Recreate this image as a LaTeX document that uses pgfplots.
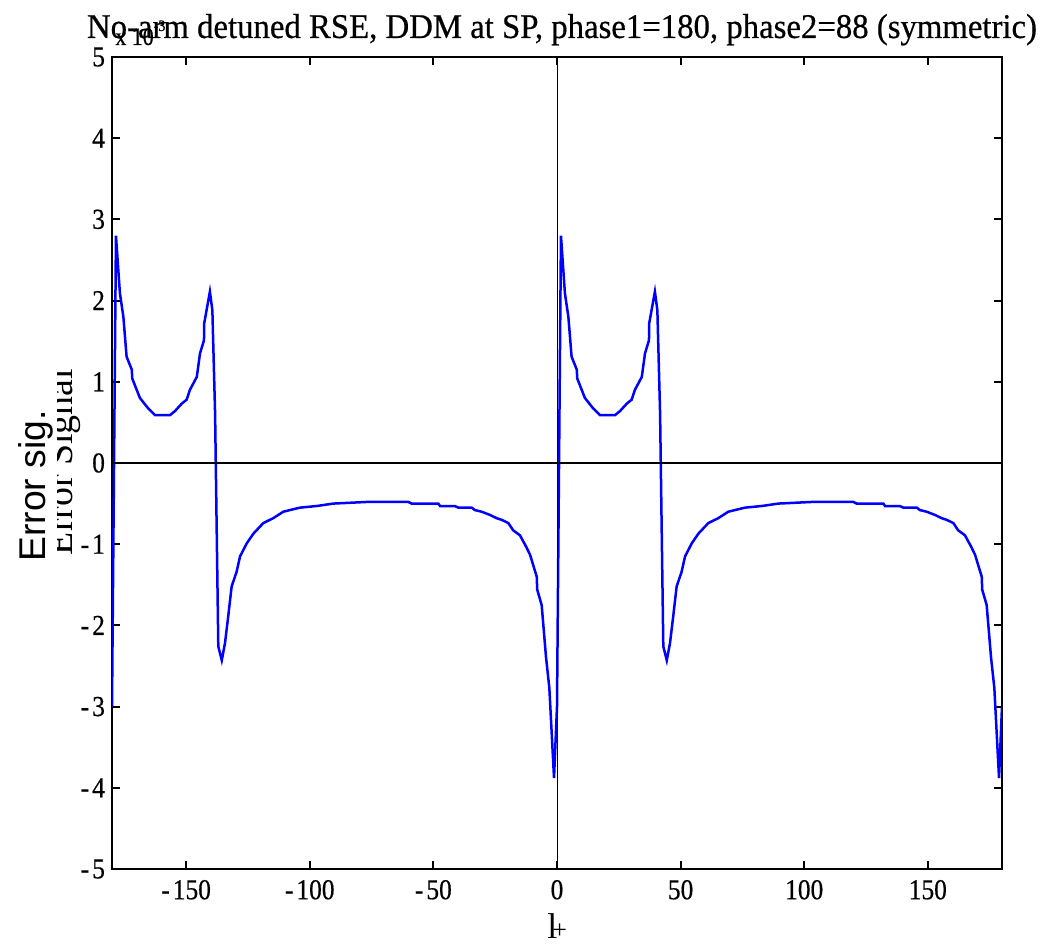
\documentclass[border=0pt]{standalone}
\usepackage{pgfplots}
\pgfplotsset{compat=1.18}
\usepackage{fontspec}
\setmainfont{Liberation Serif}
\setsansfont{Liberation Sans}
\newfontfamily\condserif{Liberation Serif}[FakeStretch=0.88, FakeBold=0.5]

\begin{document}
\begin{tikzpicture}
\begin{axis}[
    name=ax,
    scale only axis,
    width=445bp, height=406bp,
    xmin=-180, xmax=180, ymin=-5, ymax=5,
    xtick={-150,-100,-50,0,50,100,150},
    xticklabels={{-\kern1.5bp150},{-\kern1.5bp100},{-\kern1.5bp50},0,50,100,150},
    ytick={-5,-4,-3,-2,-1,0,1,2,3,4,5},
    yticklabels={{-\kern1.5bp5},{-\kern1.5bp4},{-\kern1.5bp3},{-\kern1.5bp2},{-\kern1.5bp1},0,1,2,3,4,5},
    tick label style={font=\condserif\fontsize{14.5}{14.5}\selectfont},
    xticklabel style={yshift=-2bp},
    tick align=inside,
    major tick length=4bp,
    axis line style={line width=1.2bp},
    every tick/.style={black, line width=1bp},
]
\addplot[color=blue, line width=1.25bp] coordinates {
    (-180,-3.0) (-178.4,2.80) (-176.8,2.09) (-175.4,1.80) (-174.1,1.31)
    (-172.0,1.15) (-171.8,1.04) (-170.0,0.90) (-168.7,0.80) (-165.3,0.67)
    (-162.6,0.59) (-156.5,0.59) (-154.5,0.64) (-151.8,0.73) (-149.8,0.78)
    (-148.5,0.90) (-145.7,1.06) (-144.4,1.35) (-142.8,1.51) (-142.7,1.72)
    (-140.4,2.11) (-139.4,1.88) (-138.3,0.61) (-137.0,-2.26) (-135.6,-2.43)
    (-134.3,-2.22) (-133.0,-1.89) (-131.6,-1.52) (-129.6,-1.34) (-128.2,-1.15)
    (-125.5,-0.99) (-122.8,-0.87) (-118.8,-0.74) (-114.8,-0.68) (-110.7,-0.60)
    (-104.0,-0.55) (-97.2,-0.53) (-90.5,-0.50) (-77.0,-0.48) (-60.1,-0.48)
    (-58.8,-0.50) (-48.0,-0.50) (-47.3,-0.53) (-41.3,-0.53) (-39.9,-0.55)
    (-34.5,-0.55) (-33.2,-0.58) (-30.5,-0.60) (-27.1,-0.64) (-24.4,-0.68)
    (-22.4,-0.70) (-19.7,-0.74) (-17.7,-0.83) (-15.0,-0.89) (-12.5,-1.03)
    (-10.9,-1.13) (-8.2,-1.40) (-8.0,-1.56) (-6.2,-1.75) (-4.45,-2.39)
    (-3.1,-2.77) (-1.2,-3.88)
    (0,-3.0) (1.6,2.80) (3.2,2.09) (4.6,1.80) (5.9,1.31)
    (8.0,1.15) (8.2,1.04) (10.0,0.90) (11.3,0.80) (14.7,0.67)
    (17.4,0.59) (23.5,0.59) (25.5,0.64) (28.2,0.73) (30.2,0.78)
    (31.5,0.90) (34.3,1.06) (35.6,1.35) (37.2,1.51) (37.3,1.72)
    (39.6,2.11) (40.6,1.88) (41.7,0.61) (43.0,-2.26) (44.4,-2.43)
    (45.7,-2.22) (47.0,-1.89) (48.4,-1.52) (50.4,-1.34) (51.8,-1.15)
    (54.5,-0.99) (57.2,-0.87) (61.2,-0.74) (65.2,-0.68) (69.3,-0.60)
    (76.0,-0.55) (82.8,-0.53) (89.5,-0.50) (103.0,-0.48) (119.9,-0.48)
    (121.2,-0.50) (132.0,-0.50) (132.7,-0.53) (138.7,-0.53) (140.1,-0.55)
    (145.5,-0.55) (146.8,-0.58) (149.5,-0.60) (152.9,-0.64) (155.6,-0.68)
    (157.6,-0.70) (160.3,-0.74) (162.3,-0.83) (165.0,-0.89) (167.5,-1.03)
    (169.1,-1.13) (171.8,-1.40) (172.0,-1.56) (173.8,-1.75) (175.55,-2.39)
    (176.9,-2.77) (178.8,-3.88) (180,-3.0)
};
% zero lines
\addplot[black, line width=1bp] coordinates {(-180,0) (180,0)};
\addplot[black, line width=0.5bp] coordinates {(0,-5) (0,5)};
\end{axis}

% fixed page size
\path ([xshift=-56bp,yshift=-38.5bp]ax.south west) rectangle ([xshift=21.5bp,yshift=28.5bp]ax.north east);

% title and exponent
\node[anchor=base, inner sep=0pt] at ([xshift=225bp,yshift=415.5bp]ax.south west)
    {\resizebox{475bp}{12bp}{\condserif No-arm detuned RSE, DDM at SP, phase1=180, phase2=88 (symmetric)}};
\node[anchor=base west, inner sep=0pt] at ([xshift=1.5bp,yshift=412bp]ax.south west)
    {\condserif\fontsize{12.5}{12.5}\selectfont x 10\raisebox{7bp}{\fontsize{8}{8}\selectfont -3}};

% y labels
\node[anchor=base, rotate=90, inner sep=0pt] at ([xshift=-33.5bp,yshift=191.5bp]ax.south west)
    {\sffamily\fontsize{18.7}{18.7}\selectfont Error sig.};
\begin{scope}
\clip ([xshift=-27bp,yshift=0bp]ax.south west) rectangle ([xshift=-12bp,yshift=406bp]ax.south west);
\node[anchor=base, rotate=90, inner sep=0pt] at ([xshift=-20bp,yshift=203.5bp]ax.south west)
    {\fontsize{19}{19}\selectfont Error Signal};
\end{scope}

% x label
\node[anchor=base west, inner sep=0pt] at ([xshift=217.5bp,yshift=-35bp]ax.south west)
    {{\fontsize{18}{18}\selectfont l}\kern-2.5bp{\fontsize{13}{13}\selectfont +}};
\end{tikzpicture}
\end{document}
